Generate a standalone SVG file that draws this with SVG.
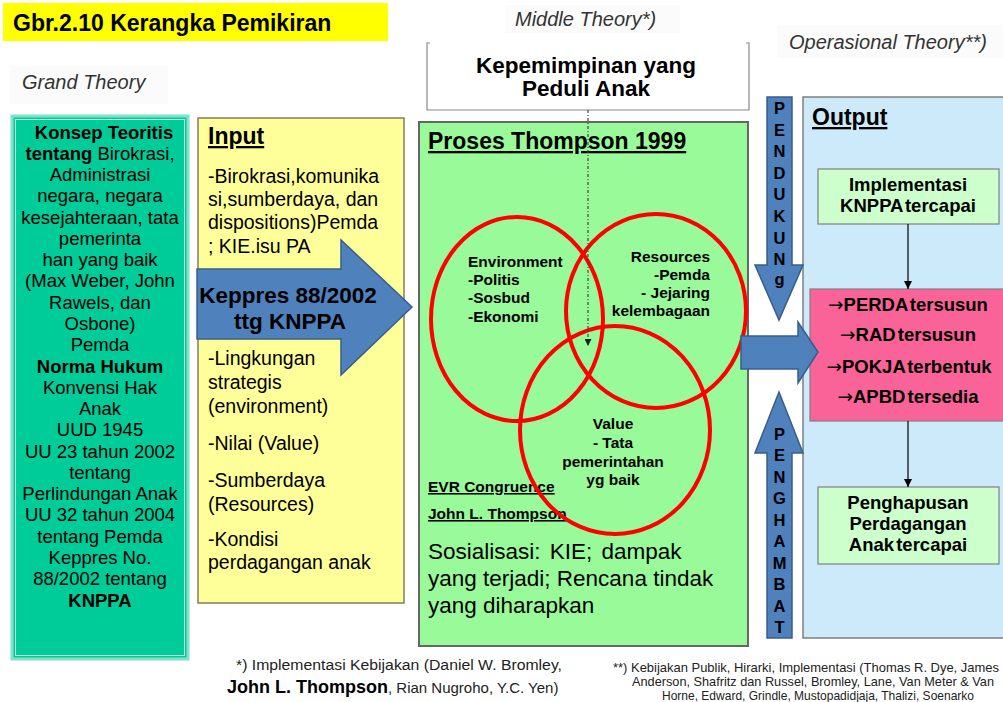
<svg xmlns="http://www.w3.org/2000/svg" width="1003" height="702" viewBox="0 0 1003 702">
<defs>
<style>
text{font-family:"Liberation Sans",Arial,sans-serif;fill:#000}
.b{font-weight:bold}
.it{font-style:italic;font-size:20px;fill:#333}
.gl{font-size:18.5px;text-anchor:middle}
.inp{font-size:19.5px}
.hd{font-size:23px;font-weight:bold;text-decoration:underline}
.cl{font-size:15.5px;font-weight:bold}
.ob{font-size:18.5px;font-weight:bold;text-anchor:middle}
.ar{font-family:"DejaVu Sans",sans-serif;font-weight:normal}
.blue{fill:#4f81bd;stroke:#385d8a;stroke-width:1.5}
.vl{font-size:16.5px;font-weight:bold;text-anchor:middle}
.circ{fill:none;stroke:#ff0000;stroke-width:4}
.conn{stroke:#000;stroke-width:1.2;fill:none}
.fn{font-size:14px;fill:#222}
.fn2{font-size:13px;fill:#222;text-anchor:middle}
</style>
<marker id="ah" viewBox="0 0 10 10" refX="10" refY="5" markerWidth="8" markerHeight="8" markerUnits="userSpaceOnUse" orient="auto">
<path d="M0,0 L10,5 L0,10 z" fill="#000"/>
</marker>
<marker id="ahd" viewBox="0 0 10 10" refX="10" refY="5" markerWidth="7" markerHeight="7" markerUnits="userSpaceOnUse" orient="auto">
<path d="M0,0 L10,5 L0,10 z" fill="#222"/>
</marker>
</defs>
<rect width="1003" height="702" fill="#fff"/>

<g id="title">
<rect x="3" y="3" width="385" height="38" fill="#ffff00"/>
<text x="13" y="31" style="font-size:23px;font-weight:bold" fill="#111">Gbr.2.10 Kerangka Pemikiran</text>
</g>

<g id="theory-labels">
<rect x="10" y="66" width="158" height="38" fill="#fbfbfb"/>
<text class="it" x="22" y="89">Grand Theory</text>
<rect x="505" y="5" width="175" height="28" fill="#fbfbfb"/>
<text class="it" x="515" y="26">Middle Theory*)</text>
<rect x="778" y="25" width="225" height="33" fill="#fbfbfb"/>
<text class="it" x="789" y="49">Operasional Theory**)</text>
</g>

<g id="grand-theory">
<rect x="12" y="116" width="176" height="543" fill="#00cc99" stroke="#80e3c8" stroke-width="3"/>
<rect x="15.5" y="119.5" width="169" height="536" fill="none" stroke="#c0f2e3" stroke-width="1"/>
<text class="gl" x="104" y="138.5"><tspan class="b">Konsep Teoritis</tspan></text>
<text class="gl" x="100" y="159.8"><tspan class="b">tentang</tspan> Birokrasi,</text>
<text class="gl" x="100" y="181">Administrasi</text>
<text class="gl" x="100" y="202.3">negara, negara</text>
<text class="gl" x="100" y="223.6">kesejahteraan, tata</text>
<text class="gl" x="100" y="244.9">pemerinta</text>
<text class="gl" x="100" y="266.1">han yang baik</text>
<text class="gl" x="100" y="287.4">(Max Weber, John</text>
<text class="gl" x="100" y="308.7">Rawels, dan</text>
<text class="gl" x="100" y="329.9">Osbone)</text>
<text class="gl" x="100" y="351.2">Pemda</text>
<text class="gl b" x="100" y="372.5">Norma Hukum</text>
<text class="gl" x="100" y="393.8">Konvensi Hak</text>
<text class="gl" x="100" y="415">Anak</text>
<text class="gl" x="100" y="436.3">UUD 1945</text>
<text class="gl" x="100" y="457.6">UU 23 tahun 2002</text>
<text class="gl" x="100" y="478.8">tentang</text>
<text class="gl" x="100" y="500.1">Perlindungan Anak</text>
<text class="gl" x="100" y="521.4">UU 32 tahun 2004</text>
<text class="gl" x="100" y="542.6">tentang Pemda</text>
<text class="gl" x="100" y="563.9">Keppres No.</text>
<text class="gl" x="100" y="585.2">88/2002 tentang</text>
<text class="gl b" x="100" y="606.5">KNPPA</text>
</g>

<g id="input">
<rect x="198" y="118" width="206" height="485" fill="#ffff99" stroke="#7f7f60" stroke-width="1.5"/>
<text class="hd" x="208" y="144">Input</text>
<text class="inp" x="208" y="183">-Birokrasi,komunika</text>
<text class="inp" x="208" y="206">si,sumberdaya, dan</text>
<text class="inp" x="208" y="229">dispositions)Pemda</text>
<text class="inp" x="208" y="253">; KIE.isu PA</text>
<text class="inp" x="208" y="365">-Lingkungan</text>
<text class="inp" x="208" y="389">strategis</text>
<text class="inp" x="208" y="413">(environment)</text>
<text class="inp" x="208" y="450">-Nilai (Value)</text>
<text class="inp" x="208" y="487">-Sumberdaya</text>
<text class="inp" x="208" y="511">(Resources)</text>
<text class="inp" x="208" y="546">-Kondisi</text>
<text class="inp" x="208" y="569">perdagangan anak</text>
</g>

<g id="keppres-arrow">
<polygon class="blue" points="197,269 341,269 341,240 412,307 341,375 341,339 197,339"/>
<text x="288" y="303" style="font-size:22.5px;font-weight:bold;text-anchor:middle" fill="#111">Keppres 88/2002</text>
<text x="290" y="329" style="font-size:22.5px;font-weight:bold;text-anchor:middle" fill="#111">ttg KNPPA</text>
</g>

<g id="kepemimpinan">
<rect x="427" y="43" width="322" height="67" fill="#fff"/>
<path d="M430,43 H427 V110 H749 V43 H746" fill="none" stroke="#888" stroke-width="1.2"/>
<text x="586" y="73" style="font-size:22.5px;font-weight:bold;text-anchor:middle" fill="#111">Kepemimpinan yang</text>
<text x="586" y="96" style="font-size:22.5px;font-weight:bold;text-anchor:middle" fill="#111">Peduli Anak</text>
</g>

<g id="proses">
<rect x="419" y="122" width="329" height="524" fill="#99fa99" stroke="#666" stroke-width="2"/>
<text class="hd" x="428" y="149">Proses Thompson 1999</text>
<text class="cl" x="428" y="492" style="text-decoration:underline">EVR Congruence</text>
<text class="cl" x="428" y="519" style="text-decoration:underline">John L. Thompson</text>
<text x="428" y="559" style="font-size:22.5px" fill="#111" word-spacing="3">Sosialisasi: KIE; dampak</text>
<text x="428" y="586" style="font-size:22.5px" fill="#111">yang terjadi; Rencana  tindak</text>
<text x="428" y="613" style="font-size:22.5px" fill="#111">yang diharapkan</text>
<ellipse class="circ" cx="517" cy="319" rx="86" ry="102"/>
<ellipse class="circ" cx="656" cy="311" rx="90" ry="97"/>
<ellipse class="circ" cx="615" cy="430" rx="95" ry="104"/>
<text class="cl" x="468" y="267">Environment</text>
<text class="cl" x="468" y="285">-Politis</text>
<text class="cl" x="468" y="303">-Sosbud</text>
<text class="cl" x="468" y="322">-Ekonomi</text>
<text class="cl" x="710" y="262" text-anchor="end">Resources</text>
<text class="cl" x="710" y="280" text-anchor="end">-Pemda</text>
<text class="cl" x="710" y="298" text-anchor="end">- Jejaring</text>
<text class="cl" x="710" y="316" text-anchor="end">kelembagaan</text>
<text class="cl" x="613" y="429" text-anchor="middle">Value</text>
<text class="cl" x="613" y="448" text-anchor="middle">- Tata</text>
<text class="cl" x="613" y="467" text-anchor="middle">pemerintahan</text>
<text class="cl" x="613" y="485" text-anchor="middle">yg baik</text>
</g>

<g id="output">
<rect x="803" y="97" width="206" height="541" fill="#cdeafa" stroke="#7f7f7f" stroke-width="1.5"/>
<text class="hd" x="812" y="125">Output</text>
</g>
<g id="implementasi">
<rect x="818" y="169" width="181" height="55" fill="#ccffcc" stroke="#7f7f7f" stroke-width="1.2"/>
<text class="ob" x="908" y="191">Implementasi</text>
<text class="ob" x="908" y="212" word-spacing="-3">KNPPA tercapai</text>
</g>
<g id="hasil">
<rect x="810" y="289" width="196" height="132" fill="#fa6397" stroke="#7f7f7f" stroke-width="1.2"/>
<text class="ob" x="908" y="311" word-spacing="-3"><tspan class="ar">→</tspan>PERDA tersusun</text>
<text class="ob" x="908" y="341" word-spacing="-3"><tspan class="ar">→</tspan>RAD tersusun</text>
<text class="ob" x="909" y="373" word-spacing="-3"><tspan class="ar">→</tspan>POKJA terbentuk</text>
<text class="ob" x="908" y="403" word-spacing="-3"><tspan class="ar">→</tspan>APBD tersedia</text>
</g>
<g id="penghapusan">
<rect x="818" y="487" width="181" height="77" fill="#ccffcc" stroke="#7f7f7f" stroke-width="1.2"/>
<text class="ob" x="908" y="509">Penghapusan</text>
<text class="ob" x="908" y="530">Perdagangan</text>
<text class="ob" x="908" y="551" word-spacing="-3">Anak tercapai</text>
</g>

<g id="big-arrows">
<polygon class="blue" points="741,336 798,336 798,322 818,352 798,383 798,369 741,369"/>
<polygon class="blue" points="767,97 792,97 792,265 803,265 779,320 755,265 767,265"/>
<text class="vl" x="779.5" y="114">P</text>
<text class="vl" x="779.5" y="135.6">E</text>
<text class="vl" x="779.5" y="157.2">N</text>
<text class="vl" x="779.5" y="178.8">D</text>
<text class="vl" x="779.5" y="200.4">U</text>
<text class="vl" x="779.5" y="222">K</text>
<text class="vl" x="779.5" y="243.6">U</text>
<text class="vl" x="779.5" y="265.2">N</text>
<text class="vl" x="779.5" y="285">g</text>
<polygon class="blue" points="779,392 803,453 792,453 792,638 767,638 767,453 755,453"/>
<text class="vl" x="779.5" y="440">P</text>
<text class="vl" x="779.5" y="461.4">E</text>
<text class="vl" x="779.5" y="482.9">N</text>
<text class="vl" x="779.5" y="504.3">G</text>
<text class="vl" x="779.5" y="525.8">H</text>
<text class="vl" x="779.5" y="547.2">A</text>
<text class="vl" x="779.5" y="568.6">M</text>
<text class="vl" x="779.5" y="590.1">B</text>
<text class="vl" x="779.5" y="611.5">A</text>
<text class="vl" x="779.5" y="633">T</text>
</g>

<g id="connectors">
<line x1="588" y1="110" x2="588" y2="346" stroke="#444" stroke-width="1.2" stroke-dasharray="3 2 1 2" marker-end="url(#ahd)"/>
<line class="conn" x1="908" y1="224" x2="908" y2="289" marker-end="url(#ah)"/>
<line class="conn" x1="908" y1="421" x2="908" y2="487" marker-end="url(#ah)"/>
</g>

<g id="footnotes">
<text class="fn" x="236" y="670" textLength="326" lengthAdjust="spacingAndGlyphs">*) Implementasi Kebijakan (Daniel W. Bromley,</text>
<text class="fn" x="227" y="693" style="font-size:15px"><tspan style="font-weight:bold;font-size:18px;fill:#000">John L. Thompson</tspan>, Rian Nugroho, Y.C. Yen)</text>
<text class="fn2" x="806" y="672" textLength="386" lengthAdjust="spacingAndGlyphs">**) Kebijakan Publik, Hirarki,  Implementasi (Thomas  R. Dye, James</text>
<text class="fn2" x="813" y="686" textLength="362" lengthAdjust="spacingAndGlyphs">Anderson, Shafritz dan Russel, Bromley, Lane, Van Meter &amp; Van</text>
<text class="fn2" x="818" y="700" textLength="312" lengthAdjust="spacingAndGlyphs">Horne, Edward, Grindle, Mustopadidjaja, Thalizi, Soenarko</text>
</g>
</svg>
